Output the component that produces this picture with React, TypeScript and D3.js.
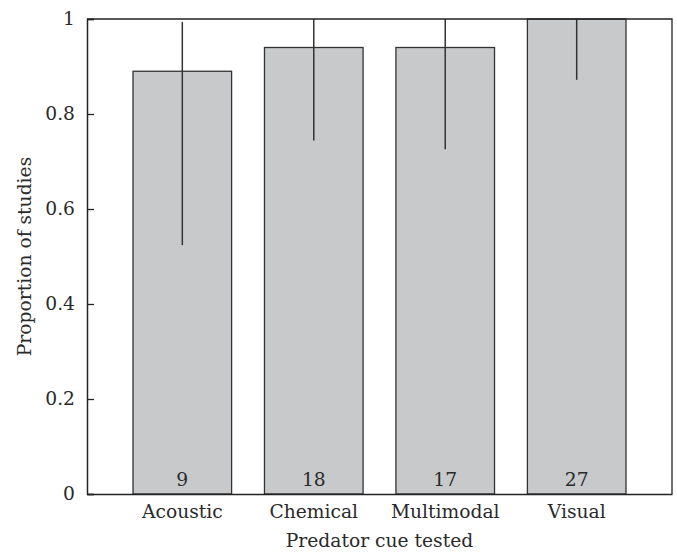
import React, { useRef, useEffect } from "react";
import * as d3 from "d3";

const categories = ["Acoustic", "Chemical", "Multimodal", "Visual"];
const proportions = [0.89, 0.94, 0.94, 1.0];
const upperCI = [0.994, 1.0, 1.0, 1.0];
const lowerCI = [0.524, 0.744, 0.726, 0.872];
const studyCounts = [9, 18, 17, 27];
const yTicks = [0, 0.2, 0.4, 0.6, 0.8, 1];

const App = () => {
  const svgRef = useRef<SVGSVGElement>(null);

  useEffect(() => {
    const width = 677;
    const height = 553;
    const marginTop = 19;
    const marginRight = 5;
    const marginBottom = 59;
    const marginLeft = 87;
    const font = "'DejaVu Serif', serif";
    const fontSize = "18.7px";
    const ink = "#2a2a2a";

    const data = categories.map((c, i) => ({
      name: c,
      value: proportions[i],
      hi: upperCI[i],
      lo: lowerCI[i],
      n: studyCounts[i],
    }));

    const svg = d3.select(svgRef.current)
      .attr("width", width)
      .attr("height", height)
      .attr("viewBox", [0, 0, width, height]);

    svg.selectAll("*").remove();

    const x = d3.scaleBand()
      .domain(categories)
      .range([marginLeft, width - marginRight])
      .paddingInner(0.25)
      .paddingOuter(0.35);

    const y = d3.scaleLinear()
      .domain([0, 1])
      .range([height - marginBottom, marginTop]);

    // bars
    svg.append("g")
      .selectAll("rect")
      .data(data)
      .join("rect")
      .attr("x", (d) => x(d.name)!)
      .attr("y", (d) => y(d.value))
      .attr("width", x.bandwidth())
      .attr("height", (d) => y(0) - y(d.value))
      .attr("fill", "#c8c9cb")
      .attr("stroke", "#333")
      .attr("stroke-width", 1.3);

    // error lines
    svg.append("g")
      .selectAll("line")
      .data(data)
      .join("line")
      .attr("x1", (d) => x(d.name)! + x.bandwidth() / 2)
      .attr("x2", (d) => x(d.name)! + x.bandwidth() / 2)
      .attr("y1", (d) => y(d.hi))
      .attr("y2", (d) => y(d.lo))
      .attr("stroke", "#333")
      .attr("stroke-width", 1.5);

    // counts inside bars
    svg.append("g")
      .selectAll("text")
      .data(data)
      .join("text")
      .attr("x", (d) => x(d.name)! + x.bandwidth() / 2)
      .attr("y", y(0) - 8)
      .attr("text-anchor", "middle")
      .attr("fill", ink)
      .style("font-family", font)
      .style("font-size", fontSize)
      .text((d) => d.n);

    // frame top & right
    svg.append("path")
      .attr("d", `M${marginLeft},${marginTop}H${width - marginRight}V${height - marginBottom}`)
      .attr("fill", "none")
      .attr("stroke", "#222")
      .attr("stroke-width", 1.3);

    // x axis
    const xAxis = svg.append("g")
      .attr("transform", `translate(0,${y(0)})`)
      .call(d3.axisBottom(x).tickSize(0).tickPadding(11));
    xAxis.select(".domain").attr("stroke", "#222").attr("stroke-width", 1.5);
    xAxis.selectAll("text")
      .attr("fill", ink)
      .style("font-family", font)
      .style("font-size", fontSize);

    // y axis with inward ticks
    const yAxis = svg.append("g")
      .attr("transform", `translate(${marginLeft},0)`)
      .call(d3.axisLeft(y).tickValues(yTicks).tickSize(-7).tickPadding(12).tickFormat((d) => String(d)));
    yAxis.select(".domain").attr("stroke", "#222").attr("stroke-width", 1.5);
    yAxis.selectAll(".tick line").attr("stroke", "#222").attr("stroke-width", 1.3);
    yAxis.selectAll("text")
      .attr("fill", ink)
      .style("font-family", font)
      .style("font-size", fontSize);

    svg.append("text")
      .attr("text-anchor", "middle")
      .attr("x", marginLeft + (width - marginLeft - marginRight) / 2)
      .attr("y", height - 6)
      .attr("fill", ink)
      .style("font-family", font)
      .style("font-size", fontSize)
      .text("Predator cue tested");

    svg.append("text")
      .attr("text-anchor", "middle")
      .attr("transform", `translate(31,${(marginTop + y(0)) / 2}) rotate(-90)`)
      .attr("fill", ink)
      .style("font-family", font)
      .style("font-size", fontSize)
      .text("Proportion of studies");
  }, []);

  return (
    <div style={{ position: "absolute", left: 0, top: 0, background: "#fff" }}>
      <svg ref={svgRef} style={{ display: "block" }}></svg>
    </div>
  );
};

export default App;
